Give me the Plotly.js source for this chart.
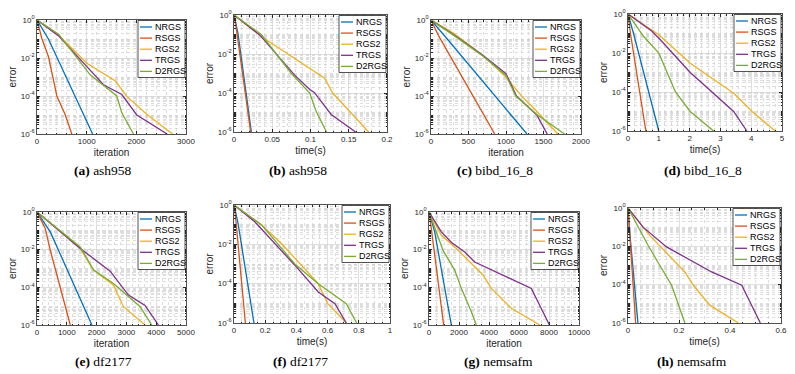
<!DOCTYPE html>
<html>
<head>
<meta charset="utf-8">
<script src="https://cdn.plot.ly/plotly-3.0.1.min.js"></script>
<style>
  html, body { margin: 0; padding: 0; background: #fff; }
  #chart { width: 795px; height: 374px; }
</style>
</head>
<body>
<div id="chart"></div>
<script>
// series shared by all panels
const names = ['NRGS', 'RSGS', 'RGS2', 'TRGS', 'D2RGS'];
const colors = ['#0072BD', '#D95319', '#EDB120', '#7E2F8E', '#77AC30'];

// captions and axis titles
const captionLetters = ['(a)', '(b)', '(c)', '(d)', '(e)', '(f)', '(g)', '(h)'];
const captionNames = ['ash958', 'ash958', 'bibd_16_8', 'bibd_16_8', 'df2177', 'df2177', 'nemsafm', 'nemsafm'];
const xTitles = ['iteration', 'time(s)', 'iteration', 'time(s)', 'iteration', 'time(s)', 'iteration', 'time(s)'];
const yTitle = 'error';
const yTickVals = [1e-6, 1e-4, 1e-2, 1];
const yTickText = ['10<sup>-6</sup>', '10<sup>-4</sup>', '10<sup>-2</sup>', '10<sup>0</sup>'];

// (a) ash958, iterations
const ashIterX = [
  [0, 230, 1120],
  [0, 100, 230, 400, 570, 700],
  [0, 435, 1004, 1574, 1808, 2210, 2730],
  [0, 435, 1004, 1339, 1708, 2009, 2620],
  [0, 435, 1071, 1607, 1708, 1942]
];
const ashIterY = [
  [1, 0.1, 1e-6],
  [1, 0.1, 1.2e-2, 1e-4, 1e-5, 1e-6],
  [1, 0.16, 5.3e-3, 6.3e-4, 9.5e-5, 1.1e-5, 1e-6],
  [1, 0.145, 3.5e-3, 3.9e-4, 1.2e-4, 1e-5, 1e-6],
  [1, 0.18, 1.3e-3, 1e-4, 1.3e-5, 1e-6]
];
// (b) ash958, time
const ashTimeX = [
  [0, 0.0052, 0.0227],
  [0, 0.003, 0.0218],
  [0, 0.0357, 0.1185, 0.129, 0.176],
  [0, 0.0336, 0.079, 0.099, 0.105, 0.127, 0.159],
  [0, 0.0357, 0.075, 0.099, 0.1076, 0.121]
];
const ashTimeY = [
  [1, 0.115, 1e-6],
  [1, 0.2, 1e-6],
  [1, 0.079, 5.8e-4, 1e-4, 1e-6],
  [1, 0.095, 8.5e-4, 1.5e-4, 1.07e-4, 7.9e-6, 1e-6],
  [1, 0.1, 1e-3, 1e-4, 1.1e-5, 1e-6]
];
// (c) bibd_16_8, iterations
const bibdIterX = [
  [0, 200, 1280],
  [0, 100, 850],
  [0, 302, 724, 991, 1213, 1391, 1690],
  [0, 300, 700, 1000, 1140, 1410, 1550],
  [0, 300, 700, 1000, 1130, 1420, 1780]
];
const bibdIterY = [
  [1, 0.12, 1e-6],
  [1, 0.15, 1e-6],
  [1, 0.2, 1.1e-2, 1.07e-3, 9.5e-5, 1.9e-5, 1e-6],
  [1, 0.17, 1.3e-2, 1.5e-3, 1e-4, 1e-5, 1e-6],
  [1, 0.16, 1.2e-2, 1.2e-3, 1e-4, 1e-5, 1e-6]
];
// (d) bibd_16_8, time
const bibdTimeX = [
  [0, 0.18, 1.0],
  [0, 0.08, 0.58],
  [0, 1.0, 2.02, 3.43, 4.03, 4.78],
  [0, 0.78, 1.05, 2.02, 3.43, 3.86],
  [0, 0.51, 1.0, 1.54, 2.02, 2.78]
];
const bibdTimeY = [
  [1, 0.1, 1e-6],
  [1, 0.1, 1e-6],
  [1, 0.087, 3e-3, 8.6e-5, 1e-5, 1e-6],
  [1, 0.13, 0.048, 1e-3, 1e-5, 1e-6],
  [1, 0.07, 1e-2, 1e-4, 1e-5, 1e-6]
];
// (e) df2177, iterations
const dfIterX = [
  [0, 446, 1842],
  [0, 279, 446, 1116],
  [0, 1451, 1897, 2567, 2902, 3627],
  [0, 1451, 2455, 3069, 3627, 4074],
  [0, 1451, 1897, 2567, 3460, 3850]
];
const dfIterY = [
  [1, 0.088, 1e-6],
  [1, 0.13, 9.3e-3, 1e-6],
  [1, 1.15e-2, 8.2e-4, 1.3e-4, 9.4e-6, 1e-6],
  [1, 1.15e-2, 7.2e-4, 3.9e-5, 1.1e-5, 1e-6],
  [1, 1.4e-2, 8.2e-4, 1.6e-4, 9.4e-6, 1e-6]
];
// (f) df2177, time
const dfTimeX = [
  [0, 0.026, 0.128],
  [0, 0.009, 0.073],
  [0, 0.176, 0.304, 0.454, 0.54, 0.6, 0.72],
  [0, 0.133, 0.39, 0.54, 0.647, 0.72],
  [0, 0.176, 0.39, 0.54, 0.72, 0.786]
];
const dfTimeY = [
  [1, 0.115, 1e-6],
  [1, 0.3, 1e-6],
  [1, 0.095, 1.1e-2, 5.9e-4, 1e-4, 1e-5, 1e-6],
  [1, 0.14, 8.7e-4, 3.8e-5, 9.6e-6, 1e-6],
  [1, 0.1, 1e-3, 1e-4, 9.6e-6, 1e-6]
];
// (g) nemsafm, iterations
const nemIterX = [
  [0, 378, 1489],
  [0, 156, 978],
  [0, 822, 1822, 3600, 4156, 5489, 7378],
  [0, 822, 1500, 2378, 3044, 6822, 8030],
  [0, 933, 1711, 2156, 2822, 3156]
];
const nemIterY = [
  [1, 0.088, 1e-6],
  [1, 0.13, 1e-6],
  [1, 0.058, 1.15e-2, 4.5e-4, 8.8e-5, 7.7e-6, 1e-6],
  [1, 0.088, 2.4e-2, 7.6e-3, 2.2e-3, 8.8e-5, 1e-6],
  [1, 9.3e-3, 8.2e-4, 8.8e-5, 5.1e-6, 1e-6]
];
// (h) nemsafm, time
const nemTimeX = [
  [0, 0.007, 0.039],
  [0, 0.030],
  [0, 0.085, 0.223, 0.256, 0.322, 0.433],
  [0, 0.059, 0.151, 0.328, 0.446, 0.519],
  [0, 0.079, 0.125, 0.171, 0.223]
];
const nemTimeY = [
  [1, 0.05, 1e-6],
  [1, 1e-6],
  [1, 0.037, 4.6e-4, 9.3e-5, 8.3e-6, 1e-6],
  [1, 0.1, 9.3e-3, 4.6e-4, 9.3e-5, 1e-6],
  [1, 1.1e-2, 1e-3, 9.3e-5, 1e-6]
];

const panelX = [ashIterX, ashTimeX, bibdIterX, bibdTimeX, dfIterX, dfTimeX, nemIterX, nemTimeX];
const panelY = [ashIterY, ashTimeY, bibdIterY, bibdTimeY, dfIterY, dfTimeY, nemIterY, nemTimeY];

// axis settings per panel
const xRanges = [[0, 3000], [0, 0.2], [0, 2000], [0, 5], [0, 5000], [0, 1], [0, 10000], [0, 0.6]];
const xDticks = [1000, 0.05, 500, 1, 1000, 0.2, 2000, 0.2];
const xMinor = [200, 0.01, 100, 0.2, 200, 0.05, 500, 0.05];

// plot boxes in pixels (left, right, top, bottom)
const W = 795, H = 374;
const boxes = [
  [37, 186, 20, 134], [234, 387, 15, 132], [431, 581, 20, 134], [628, 782, 14, 131],
  [37, 186, 212, 325], [234, 390, 205, 323], [429, 579, 212, 325], [628, 781, 208, 323]
];
const captionPos = [[103, 170], [298, 170], [495, 170], [703, 170], [103, 361], [300, 361], [498, 361], [692, 361]];

const sans = 'Liberation Sans, Arial, sans-serif';

// minor log grid: 2..9 in every decade, plus the odd decades
let yMinorVals = [];
for (let k = -6; k < 0; k++) {
  for (let m = 1; m <= 9; m++) {
    if (m === 1 && k % 2 === 0) continue;
    yMinorVals.push(m * Math.pow(10, k));
  }
}

let traces = [];
let layout = {
  width: W, height: H,
  margin: {l: 0, r: 0, t: 0, b: 0},
  paper_bgcolor: '#fff', plot_bgcolor: '#fff',
  showlegend: false,
  font: {family: sans, color: '#262626'},
  shapes: [], annotations: []
};

for (let p = 0; p < 8; p++) {
  let sfx = p === 0 ? '' : String(p + 1);
  let b = boxes[p];
  for (let s = 0; s < names.length; s++) {
    traces.push({
      x: panelX[p][s], y: panelY[p][s],
      xaxis: 'x' + sfx, yaxis: 'y' + sfx,
      mode: 'lines', name: names[s],
      line: {color: colors[s], width: 1.3},
      hoverinfo: 'skip'
    });
  }
  layout['xaxis' + sfx] = {
    domain: [b[0] / W, b[1] / W], anchor: 'y' + sfx,
    range: xRanges[p], tick0: 0, dtick: xDticks[p],
    tickformat: xTitles[p] === 'iteration' ? 'd' : '',
    ticks: 'inside', ticklen: 3, tickcolor: '#262626',
    showline: true, mirror: 'ticks', linecolor: '#262626', linewidth: 0.8,
    showgrid: true, gridcolor: '#d2d2d2', gridwidth: 0.7, zeroline: false,
    exponentformat: 'none',
    tickfont: {size: 8, family: sans, color: '#262626'},
    title: {text: xTitles[p], font: {size: 10, family: sans, color: '#262626'}, standoff: 3},
    minor: {dtick: xMinor[p], showgrid: true, gridcolor: '#cfcfcf', griddash: 'dot', gridwidth: 0.7,
            ticks: 'inside', ticklen: 1.5, tickcolor: '#262626'}
  };
  layout['yaxis' + sfx] = {
    domain: [1 - b[3] / H, 1 - b[2] / H], anchor: 'x' + sfx,
    type: 'log', range: [-6, 0],
    tickmode: 'array', tickvals: yTickVals, ticktext: yTickText,
    ticks: 'inside', ticklen: 3, tickcolor: '#262626',
    showline: true, mirror: 'ticks', linecolor: '#262626', linewidth: 0.8,
    showgrid: true, gridcolor: '#d2d2d2', gridwidth: 0.7, zeroline: false,
    tickfont: {size: 8, family: sans, color: '#262626'},
    title: {text: yTitle, font: {size: 10, family: sans, color: '#262626'}, standoff: 2},
    minor: {tickmode: 'array', tickvals: yMinorVals, showgrid: true, gridcolor: '#cfcfcf',
            griddash: 'dot', gridwidth: 0.7, ticks: 'inside', ticklen: 1.5, tickcolor: '#262626'}
  };

  // legend box drawn in the top-right corner of each panel
  let lw = 47, lh = 57;
  let lr = b[1] - 1, lt = b[2] + 0.5, ll = lr - lw;
  layout.shapes.push({
    type: 'rect', xref: 'paper', yref: 'paper',
    x0: ll / W, x1: lr / W, y0: 1 - (lt + lh) / H, y1: 1 - lt / H,
    fillcolor: '#fff', line: {color: '#262626', width: 0.8}, layer: 'above'
  });
  for (let s = 0; s < names.length; s++) {
    let yy = lt + 6.5 + s * 11.1;
    layout.shapes.push({
      type: 'line', xref: 'paper', yref: 'paper',
      x0: (ll + 2) / W, x1: (ll + 14) / W, y0: 1 - yy / H, y1: 1 - yy / H,
      line: {color: colors[s], width: 1.3}, layer: 'above'
    });
    layout.annotations.push({
      xref: 'paper', yref: 'paper', x: (ll + 15) / W, y: 1 - yy / H,
      xanchor: 'left', yanchor: 'middle', showarrow: false,
      text: names[s], font: {size: 9, family: sans, color: '#000'}
    });
  }

  // caption below the panel
  layout.annotations.push({
    xref: 'paper', yref: 'paper',
    x: captionPos[p][0] / W, y: 1 - captionPos[p][1] / H,
    xanchor: 'center', yanchor: 'middle', showarrow: false,
    text: '<b>' + captionLetters[p] + '</b> ' + captionNames[p],
    font: {size: 13.5, family: 'Liberation Serif, Times New Roman, serif', color: '#000'}
  });
}

Plotly.newPlot('chart', traces, layout, {staticPlot: true, displayModeBar: false});
</script>
</body>
</html>
